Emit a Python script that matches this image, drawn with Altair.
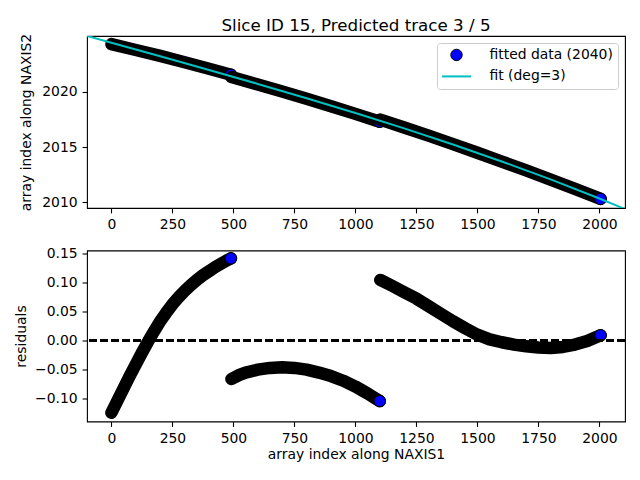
import altair as alt
import pandas as pd

FONT = "DejaVu Sans"
BLUE = "#0000ff"
CYAN = "#00bfbf"

# --- trace samples (three pieces of the trace) ---
top_x_1 = [0, 100, 200, 300, 400, 490]
top_y_1 = [2024.306, 2023.777, 2023.237, 2022.673, 2022.086, 2021.545]
top_x_2 = [492, 600, 700, 800, 900, 1000, 1100]
top_y_2 = [2021.326, 2020.658, 2020.021, 2019.366, 2018.693, 2018.001, 2017.288]
top_x_3 = [1102, 1200, 1300, 1400, 1500, 1600, 1700, 1800, 1900, 2005]
top_y_3 = [2017.482, 2016.772, 2016.028, 2015.264, 2014.484, 2013.693, 2012.886,
           2012.060, 2011.217, 2010.315]

# polynomial fit curve (deg=3)
fit_x = [-100, 0, 200, 400, 600, 800, 1000, 1200, 1400, 1600, 1800, 2000, 2105]
fit_y = [2025.042, 2024.430, 2023.204, 2021.967, 2020.708, 2019.416, 2018.080,
         2016.689, 2015.231, 2013.696, 2012.073, 2010.350, 2009.402]

# --- residuals ---
res_x_1 = [0, 25, 50, 75, 100, 125, 150, 175, 200, 225, 250, 275, 300, 325, 350,
           375, 400, 425, 450, 475, 490]
res_y_1 = [-0.124, -0.103, -0.082, -0.061, -0.041, -0.021, -0.002, 0.016, 0.033,
           0.048, 0.062, 0.074, 0.085, 0.095, 0.104, 0.112, 0.119, 0.126, 0.132,
           0.138, 0.141]
res_x_2 = [492, 525, 550, 600, 650, 700, 750, 800, 850, 900, 950, 1000, 1050, 1100]
res_y_2 = [-0.066, -0.059, -0.055, -0.050, -0.047, -0.046, -0.047, -0.050, -0.055,
           -0.061, -0.069, -0.079, -0.091, -0.104]
res_x_3 = [1102, 1150, 1200, 1250, 1300, 1350, 1400, 1450, 1500, 1550, 1600, 1650,
           1700, 1750, 1800, 1850, 1900, 1950, 2005]
res_y_3 = [0.104, 0.094, 0.083, 0.072, 0.059, 0.046, 0.033, 0.021, 0.010, 0.002,
           -0.003, -0.007, -0.010, -0.012, -0.013, -0.011, -0.007, -0.001, 0.009]

x_ticks = [0, 250, 500, 750, 1000, 1250, 1500, 1750, 2000]
top_ticks = [2010, 2015, 2020]
res_ticks = [-0.10, -0.05, 0.0, 0.05, 0.10, 0.15]
labels = ["fitted data (2040)", "fit (deg=3)"]


def pieces(xs, ys):
    rows = []
    for seg, (a, b) in enumerate(zip(xs, ys), start=1):
        for i, (x, y) in enumerate(zip(a, b)):
            rows.append({"x": x, "y": y, "seg": seg, "last": i == len(a) - 1,
                         "series": labels[0]})
    return pd.DataFrame(rows)


top_df = pieces([top_x_1, top_x_2, top_x_3], [top_y_1, top_y_2, top_y_3])
res_df = pieces([res_x_1, res_x_2, res_x_3], [res_y_1, res_y_2, res_y_3])
fit_df = pd.DataFrame({"x": fit_x, "y": fit_y})

W = 538
xscale = alt.Scale(domain=[-100, 2105], nice=False, zero=False)

legend = alt.Legend(
    title=None, orient="top-right", offset=7, padding=5, fillColor="white",
    strokeColor="#cccccc", cornerRadius=3, labelFont=FONT, labelFontSize=13.9,
    labelColor="black", rowPadding=6.4, labelOffset=26, symbolOffset=7.5,
    symbolOpacity=1,
)

# a wide horizontal stroke as legend handle for the fit line
LINE_HANDLE = "M-2.55,0H2.55"


def legend_channels():
    # one merged legend: circle with black edge for the data, cyan line for the fit
    return dict(
        fill=alt.Fill("series:N", scale=alt.Scale(domain=labels, range=[BLUE, "transparent"]),
                      legend=legend),
        stroke=alt.Stroke("series:N", scale=alt.Scale(domain=labels, range=["black", CYAN]),
                          legend=legend),
        shape=alt.Shape("series:N", scale=alt.Scale(domain=labels, range=["circle", LINE_HANDLE]),
                        legend=legend),
        size=alt.Size("series:N", scale=alt.Scale(domain=labels, range=[130, 130]),
                      legend=legend),
        strokeWidth=alt.StrokeWidth("series:N", scale=alt.Scale(domain=labels, range=[1, 2]),
                                    legend=legend),
    )


def panel(df, ydomain, yticks, ytitle, fmt, with_legend, xtitle, ypad):
    x = alt.X("x:Q", scale=xscale,
              axis=alt.Axis(values=x_ticks, format="d", title=xtitle, titlePadding=2))
    y = alt.Y("y:Q", scale=alt.Scale(domain=ydomain, nice=False, zero=False),
              axis=alt.Axis(values=yticks, format=fmt, title=ytitle, tickCount=12,
                            titlePadding=ypad))
    layers = []
    for s in (1, 2, 3):
        band = alt.Chart(df).transform_filter(alt.datum.seg == s).mark_line(
            color="black", strokeWidth=12.5, strokeCap="round", strokeJoin="round",
            clip=True).encode(x=x, y=y)
        end = alt.Chart(df).transform_filter(
            (alt.datum.seg == s) & alt.datum.last).mark_point(opacity=1, clip=True)
        if with_legend:
            end = end.encode(x=x, y=y, **legend_channels())
        else:
            end = end.encode(x=x, y=y, fill=alt.value(BLUE), stroke=alt.value("black"),
                             size=alt.value(130), strokeWidth=alt.value(1),
                             shape=alt.value("circle"))
        layers += [band, end]
    return layers


top_layers = panel(top_df, [2009.49, 2025.04], top_ticks,
                   "array index along NAXIS2", "d", True, None, 8)
fit_line = alt.Chart(fit_df).mark_line(color=CYAN, strokeWidth=2, clip=True).encode(
    x=alt.X("x:Q", scale=xscale),
    y=alt.Y("y:Q"),
)
top = alt.layer(*top_layers, fit_line).properties(
    width=W, height=172,
    title=alt.TitleParams("Slice ID 15, Predicted trace 3 / 5", font=FONT,
                          fontSize=16.7, fontWeight="normal", anchor="middle",
                          frame="group", offset=-1, color="black"),
)

bottom_layers = panel(res_df, [-0.139, 0.1545], res_ticks, "residuals", ".2f",
                      False, "array index along NAXIS1", 6)
zero = alt.Chart(res_df).mark_rule(color="black", strokeWidth=2,
                                   strokeDash=[7.7, 3.3]).encode(y=alt.datum(0))
bottom = alt.layer(*bottom_layers, zero).properties(width=W, height=171)

chart = alt.vconcat(top, bottom, spacing=12.5).resolve_legend(
    fill="independent", stroke="independent", shape="independent",
    size="independent", strokeWidth="independent",
).properties(
    padding={"left": 5, "top": 9, "right": 5, "bottom": 5},
).configure_axis(
    labelFont=FONT, labelFontSize=13.9, labelColor="black", tickColor="black",
    tickSize=4.9, tickWidth=1.1, labelPadding=5, grid=False, domain=False,
    labelOverlap=False, titleFont=FONT, titleFontSize=13.9,
    titleFontWeight="normal", titleColor="black",
).configure_view(stroke="black", strokeWidth=1.1)

chart.save("out.html", embed_options={"renderer": "svg", "actions": False})
